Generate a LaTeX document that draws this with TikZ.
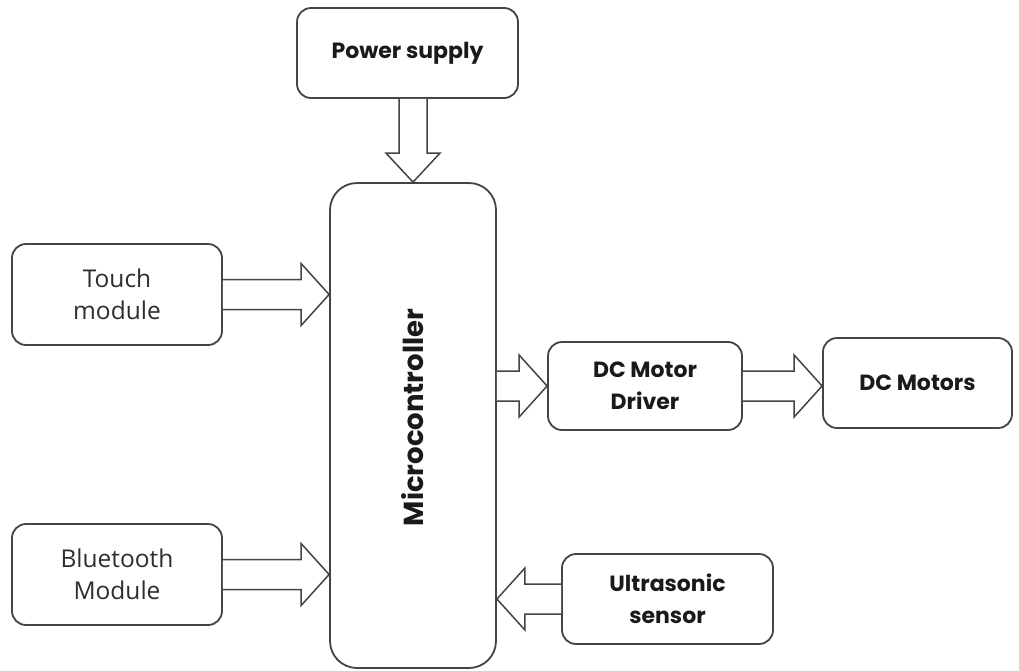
\documentclass[tikz,border=0pt]{standalone}
\usepackage{fontspec}
\setmainfont{Poppins}
\newfontfamily\regfont{Open Sans}
\usetikzlibrary{calc}
\definecolor{ln}{HTML}{444444}
\definecolor{tx}{HTML}{1A1A1A}
\tikzset{
  box/.style={draw=ln, line width=1.8pt, rounded corners=14pt, fill=white, align=center, text=tx, inner sep=0pt},
  boldlbl/.style={font=\fontsize{22}{32}\selectfont\bfseries},
  reglbl/.style={font=\regfont\fontsize{24.5}{32}\selectfont, text=black!82},
  blk/.style={draw=ln, line width=1.5pt, fill=white, line join=miter}
}
\newcommand{\rarrow}[2]{\draw[blk] ($(#1)+(0,15pt)$) -- ($(#2)+(-28pt,15pt)$) -- ($(#2)+(-28pt,31pt)$) -- (#2) -- ($(#2)+(-28pt,-31pt)$) -- ($(#2)+(-28pt,-15pt)$) -- ($(#1)+(0,-15pt)$);}
\newcommand{\larrow}[2]{\draw[blk] ($(#1)+(0,15pt)$) -- ($(#2)+(28pt,15pt)$) -- ($(#2)+(28pt,31pt)$) -- (#2) -- ($(#2)+(28pt,-31pt)$) -- ($(#2)+(28pt,-15pt)$) -- ($(#1)+(0,-15pt)$);}
\newcommand{\darrow}[2]{\draw[blk] ($(#1)+(-14pt,0)$) -- ($(#2)+(-14pt,29pt)$) -- ($(#2)+(-27pt,29pt)$) -- (#2) -- ($(#2)+(27pt,29pt)$) -- ($(#2)+(14pt,29pt)$) -- ($(#1)+(14pt,0)$);}
\begin{document}
\begin{tikzpicture}[x=1pt,y=-1pt]
\fill[white] (0,0) rectangle (1019,670);
\useasboundingbox (0,0) rectangle (1019,670);
\node[box, boldlbl, minimum width=221pt, minimum height=90pt] (ps) at (407.5,53) {Power supply};
\node[box, rounded corners=27pt, minimum width=166pt, minimum height=485pt] (mc) at (413,425.5) {};
\node[font=\fontsize{27.5}{32}\selectfont\bfseries, text=tx, rotate=90] (mct) at ($(mc.center)+(0,-8)$) {Microcontroller};
\node[box, reglbl, minimum width=210pt, minimum height=101pt] (tm) at (117,294.5) {Touch\\module};
\node[box, reglbl, minimum width=210pt, minimum height=101pt] (bt) at (117,574.5) {Bluetooth\\Module};
\node[box, boldlbl, minimum width=194pt, minimum height=88pt] (dr) at (645,386) {DC Motor\\Driver};
\node[box, boldlbl, minimum width=189pt, minimum height=90pt] (dm) at (917.5,383) {DC Motors};
\node[box, boldlbl, minimum width=211pt, minimum height=90pt] (us) at (667.5,599) {Ultrasonic\\sensor};
\darrow{ps.south -| mc.north}{mc.north}
\rarrow{tm.east}{mc.west |- tm.east}
\rarrow{bt.east}{mc.west |- bt.east}
\rarrow{mc.east |- dr.west}{dr.west}
\rarrow{dr.east}{dm.west |- dr.east}
\larrow{us.west}{mc.east |- us.west}
\end{tikzpicture}
\end{document}
